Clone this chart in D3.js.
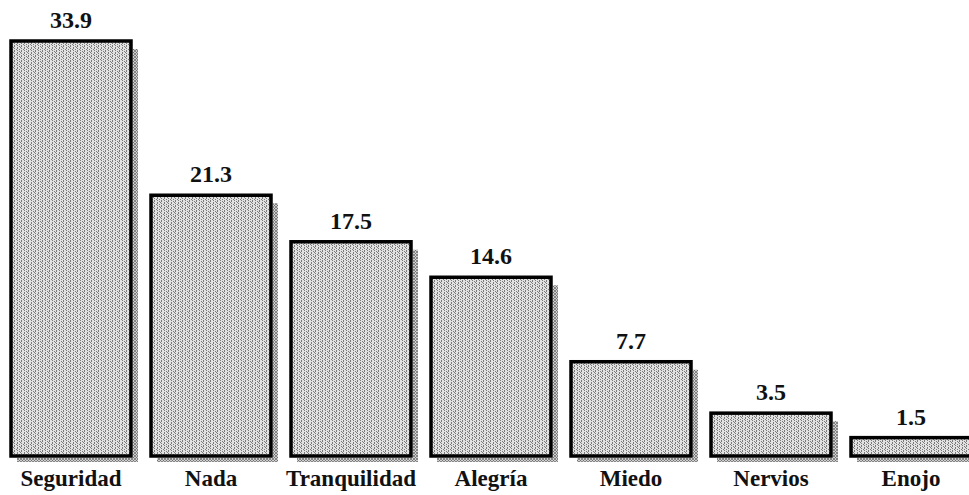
<!DOCTYPE html>
<html>
<head>
<meta charset="utf-8">
<script src="https://cdn.jsdelivr.net/npm/d3@7"></script>
<style>
  body { margin: 0; background: #fff; }
  svg { display: block; }
  text { font-family: "Liberation Serif", "Times New Roman", serif; font-weight: bold; fill: #111; }
</style>
</head>
<body>
<div class="chart"></div>
<script>
var svgWidth = 969;
var svgHeight = 495;

// data
var categories = ["Seguridad", "Nada", "Tranquilidad", "Alegría", "Miedo", "Nervios", "Enojo"];
var values = [33.9, 21.3, 17.5, 14.6, 7.7, 3.5, 1.5];

var baseline = 456;

var svg = d3.select(".chart")
  .append("svg")
  .attr("width", svgWidth)
  .attr("height", svgHeight);

var defs = svg.append("defs");

// speckled grey fill, like the scanned halftone
var fill = defs.append("pattern")
  .attr("id", "speckle")
  .attr("patternUnits", "userSpaceOnUse")
  .attr("width", 7)
  .attr("height", 5);
fill.append("rect").attr("width", 7).attr("height", 5).attr("fill", "#e2e2e2");
[[0, 0], [0, 1], [0, 3], [3, 0], [3, 2], [3, 3], [5, 1], [5, 4], [2, 4], [6, 2]].forEach(function (p) {
  fill.append("rect").attr("x", p[0]).attr("y", p[1]).attr("width", 1).attr("height", 1).attr("fill", "#7a7a7a");
});

// crosshatched drop shadow
var hatch = defs.append("pattern")
  .attr("id", "hatch")
  .attr("patternUnits", "userSpaceOnUse")
  .attr("width", 3)
  .attr("height", 3);
hatch.append("rect").attr("width", 3).attr("height", 3).attr("fill", "#d0d0d0");
hatch.append("path").attr("d", "M0,0 L3,3 M3,0 L0,3").attr("stroke", "#666").attr("stroke-width", 0.7);

var xScale = d3.scaleBand()
  .domain(categories)
  .range([11, 971])
  .paddingInner(1 / 7)
  .paddingOuter(0);

var yScale = d3.scaleLinear()
  .domain([0, 33.9])
  .range([baseline, 41]);

var data = categories.map(function (c, i) { return { cat: c, value: values[i] }; });

var groups = svg.selectAll("g.bar")
  .data(data)
  .enter()
  .append("g")
  .classed("bar", true);

// shadow right side
groups.append("rect")
  .attr("x", d => xScale(d.cat) + xScale.bandwidth() + 2)
  .attr("y", d => Math.min(yScale(d.value) + 8, baseline - 4))
  .attr("width", 5)
  .attr("height", d => baseline + 6 - Math.min(yScale(d.value) + 8, baseline - 4))
  .attr("fill", "url(#hatch)");

// shadow bottom
groups.append("rect")
  .attr("x", d => xScale(d.cat) + 6)
  .attr("y", baseline + 2)
  .attr("width", xScale.bandwidth() + 1)
  .attr("height", 4)
  .attr("fill", "url(#hatch)");

// bars
groups.append("rect")
  .attr("x", d => xScale(d.cat))
  .attr("y", d => yScale(d.value))
  .attr("width", xScale.bandwidth())
  .attr("height", d => baseline - yScale(d.value))
  .attr("fill", "url(#speckle)")
  .attr("stroke", "#000")
  .attr("stroke-width", 3.5);

// value labels
groups.append("text")
  .attr("x", d => xScale(d.cat) + xScale.bandwidth() / 2)
  .attr("y", d => yScale(d.value) - 13)
  .attr("text-anchor", "middle")
  .attr("font-size", "24px")
  .text(d => d.value.toFixed(1));

// category labels
groups.append("text")
  .attr("x", d => xScale(d.cat) + xScale.bandwidth() / 2)
  .attr("y", 486)
  .attr("text-anchor", "middle")
  .attr("font-size", "23px")
  .text(d => d.cat);
</script>
</body>
</html>
